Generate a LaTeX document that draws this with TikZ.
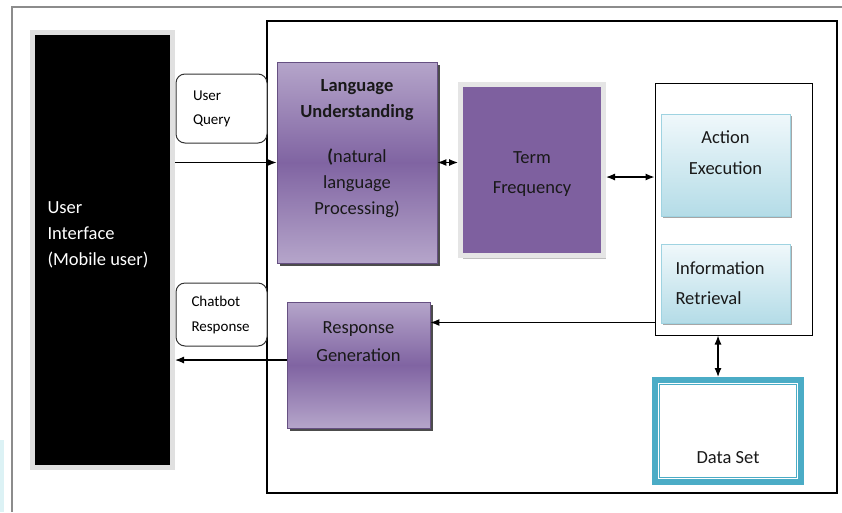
\documentclass[tikz,border=0pt]{standalone}
\usepackage{fontspec}
\setmainfont{Carlito}
\usetikzlibrary{calc,shadows,arrows.meta}

\definecolor{violetDark}{HTML}{8064A2}
\definecolor{violetLight}{HTML}{B5A5CA}
\definecolor{violetTerm}{HTML}{7E609F}
\definecolor{aquaTop}{HTML}{F0F8FB}
\definecolor{aquaBottom}{HTML}{B4DCE7}
\definecolor{aquaLine}{HTML}{9FD3E1}
\definecolor{dataBlue}{HTML}{4BACC6}
\definecolor{edgeCyan}{HTML}{DCF2F5}

\tikzset{
	panel/.style={draw=black, line width=1.1pt, fill=white},
	pageline/.style={draw=black!45, line width=1.6pt},
	screen/.style={fill=black, draw=black!12, line width=5pt},
	bubble/.style={draw=black!80, line width=1pt, rounded corners=9pt, fill=white,
		text width=57pt, align=left, font=\fontsize{15}{24}\selectfont},
	violetbox/.style={draw=violetDark!80!black, line width=0.8pt, top color=violetLight,
		bottom color=violetLight, middle color=violetDark,
		drop shadow={shadow xshift=2.5pt, shadow yshift=-2.5pt, fill=black!70, opacity=1}},
	termbox/.style={fill=violetTerm, draw=black!10, line width=5pt,
		drop shadow={shadow xshift=2pt, shadow yshift=-3.5pt, fill=black!25, opacity=1}},
	aquabox/.style={draw=aquaLine, line width=1pt, top color=aquaTop, bottom color=aquaBottom,
		drop shadow={shadow xshift=2pt, shadow yshift=-2pt, fill=black!35, opacity=1}},
	databox/.style={draw=dataBlue, line width=6pt, fill=white},
	boxtext/.style={font=\fontsize{18.5}{26}\selectfont, text=black!90, align=center},
	flow/.style={->, >={Latex[length=9pt,width=7pt]}, line width=1.2pt},
	twoway/.style={<->, >={Latex[length=9pt,width=7pt]}, line width=1.2pt}
}

\begin{document}
\begin{tikzpicture}[x=1pt,y=-1pt]
	% page
	\useasboundingbox (0,0) rectangle (842,512);
	\fill[edgeCyan] (0,440) rectangle (4,512);
	\draw[pageline] (842,7) -- (12,7) -- (12,512);

	% user side
	\node[screen, minimum width=140pt, minimum height=435pt] (ui) at (102.5,250) {};
	\node[boxtext, text=white, align=left, anchor=west] (ui-text) at ($(ui.west)+(14,-15)$)
		{User\\Interface\\(Mobile user)};

	% chatbot frame
	\node[panel, minimum width=570pt, minimum height=472pt] (system) at (552,257) {};

	\node[bubble, minimum width=91pt, minimum height=69pt] (query) at (221.5,108.5) {User\\Query};
	\node[bubble, minimum width=91pt, minimum height=63pt, text width=60pt,
		font=\fontsize{15}{25}\selectfont] (reply) at (221.5,314.5) {Chatbot\\Response};

	\node[violetbox, minimum width=160pt, minimum height=201pt] (lu) at (357,162.5) {};
	\node[boxtext] (lu-text) at ($(lu.center)+(0,-14)$)
		{\textbf{Language}\\\textbf{Understanding}\\[19pt]\textbf{(}natural\\language\\Processing)};

	\node[termbox, minimum width=143pt, minimum height=171pt] (tf) at (532,170) {};
	\node[boxtext, font=\fontsize{18.5}{30}\selectfont] (tf-text) at ($(tf.center)+(0,4)$)
		{Term\\Frequency};

	\node[panel, line width=1pt, minimum width=157pt, minimum height=252pt] (exec) at (733.5,209) {};
	\node[aquabox, minimum width=129pt, minimum height=102pt] (ae) at (725.5,165) {};
	\node[boxtext, font=\fontsize{18.5}{31}\selectfont] (ae-text) at ($(ae.center)+(0,-12.5)$)
		{Action\\Execution};
	\node[aquabox, boxtext, align=left, text width=100pt, minimum width=129pt, minimum height=79pt,
		font=\fontsize{18.5}{30}\selectfont] (ir) at (725.5,283.5) {Information\\Retrieval};

	\node[violetbox, minimum width=143pt, minimum height=126pt] (rg) at (358.5,365) {};
	\node[boxtext, font=\fontsize{18.5}{28}\selectfont] (rg-text) at ($(rg.center)+(0,-23)$)
		{Response\\Generation};

	% data set
	\node[databox, minimum width=146pt, minimum height=102pt] (ds) at (728,431) {};
	\draw[dataBlue, line width=1pt] ($(ds.north west)+(7.5,7.5)$) rectangle ($(ds.south east)+(-7.5,-7.5)$);
	\node[boxtext] (ds-text) at ($(ds.south)+(0,-27)$) {Data Set};

	% arrows
	\coordinate (tf-out) at ($(tf.east)+(0,7)$);
	\coordinate (ir-out) at ($(exec.south west)+(0,-13)$);
	\coordinate (rg-out) at ($(rg.west)+(0,-5)$);
	\coordinate (ds-in) at ($(ds.north)+(-10,0)$);
	\draw[flow] (ui.east |- lu.west) -- (lu.west);
	\draw[twoway] (lu.east) -- (lu.east -| tf.west);
	\draw[twoway] (tf-out) -- (tf-out -| exec.west);
	\draw[flow] (ir-out) -- (ir-out -| rg.east);
	\draw[flow] (rg-out) -- (rg-out -| ui.east);
	\draw[twoway] (ds-in |- exec.south) -- (ds-in);
\end{tikzpicture}
\end{document}
